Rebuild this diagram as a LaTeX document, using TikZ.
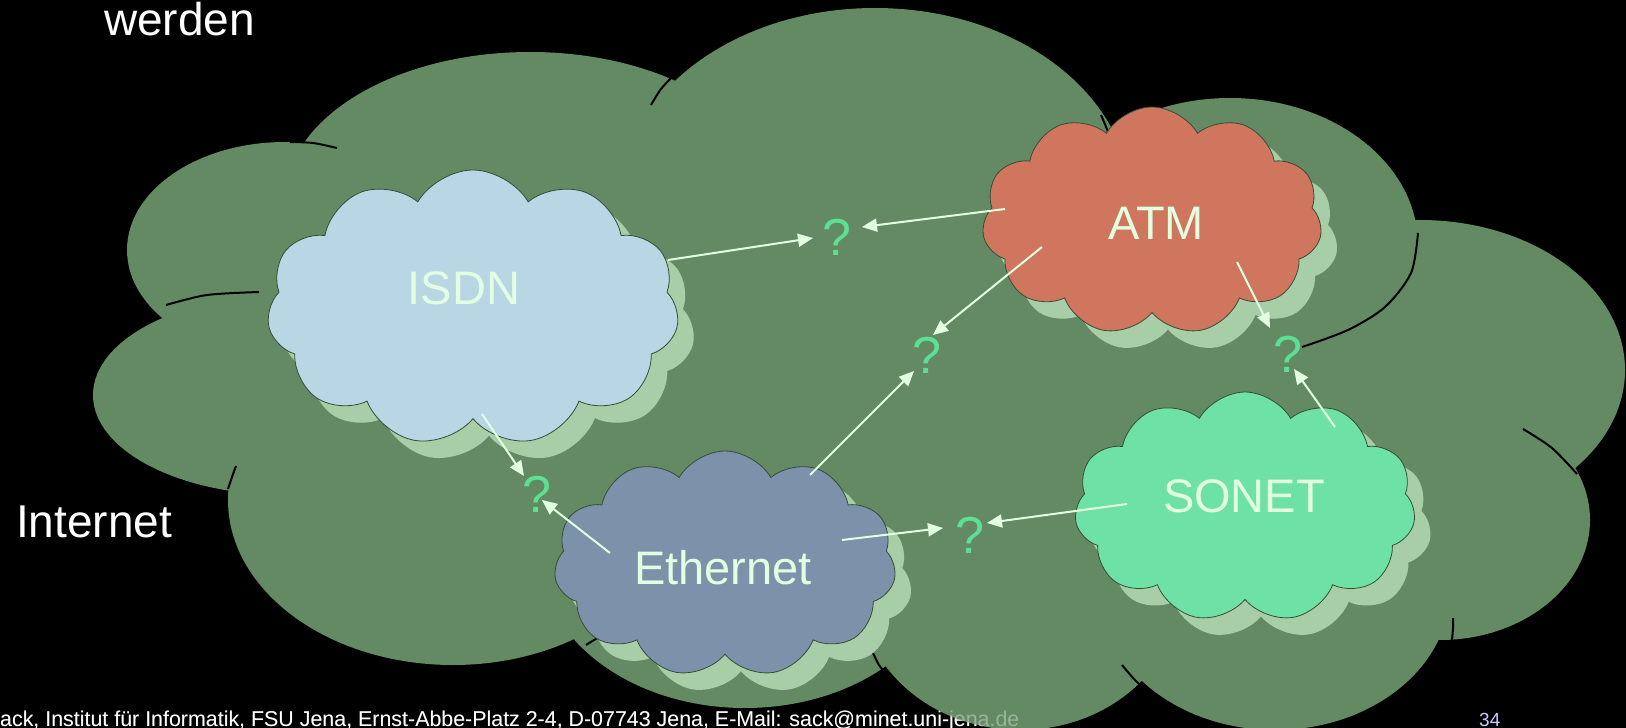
\documentclass[tikz,border=0pt]{standalone}
\usepackage{fontspec}
\setmainfont{Liberation Sans}
\usetikzlibrary{shapes.symbols,arrows.meta}
\definecolor{netgreen}{RGB}{100,138,100}
\definecolor{shadowgreen}{RGB}{168,206,168}
\definecolor{isdnblue}{RGB}{184,214,228}
\definecolor{atmred}{RGB}{208,118,94}
\definecolor{sonetgreen}{RGB}{110,226,166}
\definecolor{ethblue}{RGB}{124,146,170}
\definecolor{labelgreen}{RGB}{226,255,226}
\definecolor{qgreen}{RGB}{92,224,148}
\definecolor{pagenum}{RGB}{200,200,255}
\tikzset{
  lobe/.style={fill=netgreen},
  seam/.style={draw=black, line width=2pt},
  smallcloud/.style={cloud, cloud puffs=11, cloud puff arc=120, cloud ignores aspect, inner sep=0pt, draw=black!45!netgreen, line width=0.8pt},
  cloudshadow/.style={cloud, cloud puffs=11, cloud puff arc=120, cloud ignores aspect, inner sep=0pt, fill=shadowgreen},
  netlabel/.style={text=labelgreen, font=\fontsize{47}{50}\selectfont, inner sep=0pt},
  qmark/.style={text=qgreen, font=\fontsize{52}{54}\selectfont, inner sep=0pt},
  linkarrow/.style={draw=labelgreen, line width=2pt, -{Triangle[length=15pt,width=13pt]}},
  slidetext/.style={text=white, font=\fontsize{46}{50}\selectfont, inner sep=0pt},
  footer/.style={text=white, font=\fontsize{21.4}{24}\selectfont, inner sep=0pt},
  pagefont/.style={text=pagenum, font=\fontsize{19}{22}\selectfont, inner sep=0pt}
}
\begin{document}
\begin{tikzpicture}[x=1pt,y=-1pt]
\useasboundingbox (0,0) rectangle (1626,728);
\fill[black] (0,0) rectangle (1626,728);

% footer (lies under the big cloud)
\node[footer, anchor=base west] (foot) at (0,726) {ack, Institut für Informatik, FSU Jena, Ernst-Abbe-Platz 2-4, D-07743 Jena, E-Mail: sack@minet.uni-jena.de};
\node[pagefont, anchor=base west] (page) at (1479,726) {34};

% big Internet cloud: union of lobes
\fill[lobe] (850,400) ellipse [x radius=560, y radius=250];
\fill[lobe] (530,200) ellipse [x radius=245, y radius=148];
\fill[lobe] (285,250) ellipse [x radius=158, y radius=108];
\fill[lobe] (285,395) ellipse [x radius=192, y radius=100];
\fill[lobe] (453,500) ellipse [x radius=225, y radius=165];
\fill[lobe] (745,555) ellipse [x radius=205, y radius=153];
\fill[lobe] (1020,590) ellipse [x radius=160, y radius=140];
\fill[lobe] (1275,590) ellipse [x radius=175, y radius=140];
\fill[lobe] (1440,520) ellipse [x radius=150, y radius=120];
\fill[lobe] (1420,370) ellipse [x radius=205, y radius=150];
\fill[lobe] (1230,245) ellipse [x radius=188, y radius=147];
\fill[lobe] (875,200) ellipse [x radius=255, y radius=192];

% inner seams of the big cloud
\draw[seam] plot[smooth] coordinates {(290,142) (313,143) (337,148)};
\draw[seam] plot[smooth] coordinates {(651,105) (661,89) (674,75)};
\draw[seam] plot[smooth] coordinates {(1101,115) (1108,132) (1113,150)};
\draw[seam] plot[smooth] coordinates {(1418,233) (1411,273) (1385,307) (1348,330) (1302,347)};
\draw[seam] plot[smooth] coordinates {(1523,429) (1552,448) (1577,474)};
\draw[seam] plot[smooth] coordinates {(1453,618) (1453,628) (1452,640)};
\draw[seam] plot[smooth] coordinates {(1122,665) (1135,680) (1150,693)};
\draw[seam] plot[smooth] coordinates {(873,653) (879,665) (888,676)};
\draw[seam] plot[smooth] coordinates {(586,645) (608,632) (633,622)};
\draw[seam] plot[smooth] coordinates {(236,466) (232,477) (228,489)};
\draw[seam] plot[smooth] coordinates {(166,305) (207,295) (259,292)};

% footer shows faintly through the cloud
\node[footer, opacity=0.35, anchor=base west] (footghost) at (0,726) {ack, Institut für Informatik, FSU Jena, Ernst-Abbe-Platz 2-4, D-07743 Jena, E-Mail: sack@minet.uni-jena.de};

% slide texts
\node[slidetext, anchor=base west] (werden) at (104,35) {werden};
\node[slidetext, anchor=base west] (internet) at (16,537) {Internet};

% shadows
\node[cloudshadow, minimum width=412pt, minimum height=276pt] (isdnsh) at (489,325) {};
\node[cloudshadow, minimum width=340pt, minimum height=228pt] (atmsh) at (1168,238) {};
\node[cloudshadow, minimum width=341pt, minimum height=230pt] (sonetsh) at (1261,524) {};
\node[cloudshadow, minimum width=342pt, minimum height=226pt] (ethsh) at (741,581) {};

% network clouds
\node[smallcloud, fill=isdnblue, minimum width=412pt, minimum height=276pt] (isdn) at (473,308) {};
\node[smallcloud, fill=atmred, minimum width=340pt, minimum height=228pt] (atm) at (1152,221) {};
\node[smallcloud, fill=sonetgreen, minimum width=341pt, minimum height=230pt] (sonet) at (1245,507) {};
\node[smallcloud, fill=ethblue, minimum width=342pt, minimum height=226pt] (eth) at (725,564) {};

\node[netlabel] (isdnl) at (464,288) {ISDN};
\node[netlabel] (atml) at (1156,223) {ATM};
\node[netlabel] (sonetl) at (1244,496) {SONET};
\node[netlabel] (ethl) at (723,568) {Ethernet};

% question marks
\node[qmark] (q1) at (837,237) {?};
\node[qmark] (q2) at (927,355) {?};
\node[qmark] (q3) at (1288,354) {?};
\node[qmark] (q4) at (537,494) {?};
\node[qmark] (q5) at (970,535) {?};

% arrow ends
\coordinate (isdnR) at (668,260);
\coordinate (isdnB) at (482,414);
\coordinate (atmL) at (1005,209);
\coordinate (atmLB) at (1042,247);
\coordinate (atmRB) at (1237,262);
\coordinate (sonetT) at (1335,427);
\coordinate (sonetL) at (1127,504);
\coordinate (ethT) at (810,475);
\coordinate (ethR) at (842,540);
\coordinate (ethL) at (610,553);
\coordinate (q1w) at (813,238);
\coordinate (q1e) at (862,227);
\coordinate (q2n) at (933,335);
\coordinate (q2s) at (914,371);
\coordinate (q3n) at (1270,328);
\coordinate (q3s) at (1294,369);
\coordinate (q4n) at (524,476);
\coordinate (q4s) at (542,500);
\coordinate (q5w) at (943,528);
\coordinate (q5e) at (987,523);

\draw[linkarrow] (isdnR) -- (q1w);
\draw[linkarrow] (atmL) -- (q1e);
\draw[linkarrow] (atmLB) -- (q2n);
\draw[linkarrow] (ethT) -- (q2s);
\draw[linkarrow] (atmRB) -- (q3n);
\draw[linkarrow] (sonetT) -- (q3s);
\draw[linkarrow] (isdnB) -- (q4n);
\draw[linkarrow] (ethL) -- (q4s);
\draw[linkarrow] (ethR) -- (q5w);
\draw[linkarrow] (sonetL) -- (q5e);
\end{tikzpicture}
\end{document}
